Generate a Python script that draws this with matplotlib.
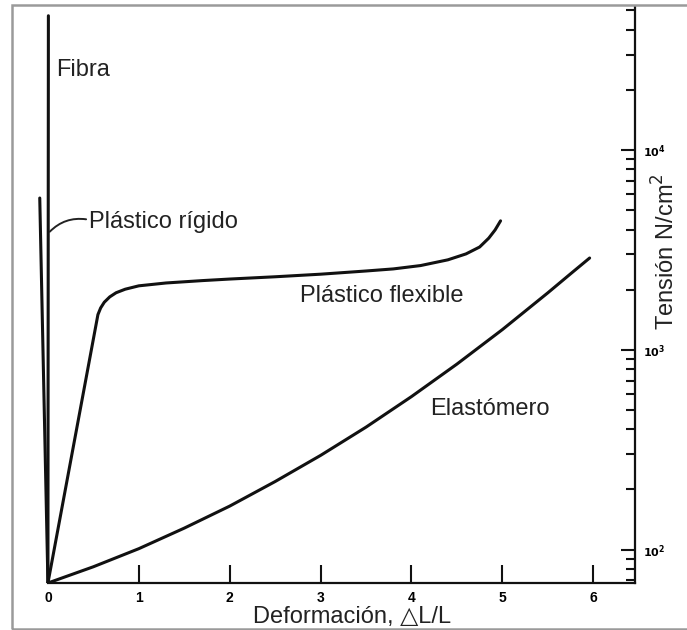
import matplotlib
matplotlib.use("Agg")
import matplotlib.pyplot as plt
from matplotlib.patches import Rectangle
from matplotlib.ticker import LogLocator, NullFormatter, FixedLocator, FixedFormatter

plt.rcParams['font.family'] = ['Liberation Sans', 'DejaVu Sans']

# Strain (ΔL/L) and stress (N/cm²) for each material
fibra_x = [0.0, 0.005]
fibra_y = [68, 47000]

rigido_x = [0.0, -0.09]
rigido_y = [68, 5750]

flexible_x = [0.0, 0.55, 0.58, 0.62, 0.68, 0.75, 0.85, 1.00, 1.30, 1.70, 2.00, 2.50,
              3.00, 3.50, 3.80, 4.10, 4.40, 4.60, 4.75, 4.85, 4.92, 4.98]
flexible_y = [68, 1500, 1620, 1730, 1840, 1930, 2010, 2090, 2160, 2220, 2260, 2320,
              2390, 2480, 2540, 2640, 2820, 3020, 3270, 3620, 3980, 4420]

elast_x = [0.0, 0.5, 1.0, 1.5, 2.0, 2.5, 3.0, 3.5, 4.0, 4.5, 5.0, 5.5, 5.75, 5.96]
elast_y = [68, 82, 101, 128, 165, 219, 296, 410, 583, 848, 1262, 1928, 2400, 2880]

x_ticks = [0, 1, 2, 3, 4, 5, 6]
x_ticklabels = ['0', '1', '2', '3', '4', '5', '6']
y_ticks = [1e2, 1e3, 1e4]
y_ticklabels = ['$\\mathbf{10^{2}}$', '$\\mathbf{10^{3}}$', '$\\mathbf{10^{4}}$']

fig = plt.figure(figsize=(6.87, 6.30), dpi=100)
ax = fig.add_axes([0.0539, 0.0746, 0.8705, 0.9143])

line_kw = dict(color='#111111', lw=2.2, solid_capstyle='round', solid_joinstyle='round')
ax.plot(fibra_x, fibra_y, **line_kw)
ax.plot(rigido_x, rigido_y, **line_kw)
ax.plot(flexible_x, flexible_y, **line_kw)
ax.plot(elast_x, elast_y, **line_kw)

ax.set_yscale('log')
ax.set_xlim(-0.12, 6.46)
ax.set_ylim(68, 52000)

# Spines: only bottom and right, bottom starting at the origin
for side in ('left', 'top'):
    ax.spines[side].set_visible(False)
for side in ('bottom', 'right'):
    ax.spines[side].set_linewidth(1.6)
    ax.spines[side].set_color('#111111')
ax.spines['bottom'].set_bounds(0, 6.46)

ax.xaxis.set_major_locator(FixedLocator(x_ticks))
ax.xaxis.set_major_formatter(FixedFormatter(x_ticklabels))
ax.tick_params(axis='x', direction='in', length=13, width=1.5, color='#111111',
               pad=6, labelsize=10)
for lbl in ax.get_xticklabels():
    lbl.set_fontweight('bold')

ax.yaxis.tick_right()
ax.yaxis.set_major_locator(FixedLocator(y_ticks))
ax.yaxis.set_major_formatter(FixedFormatter(y_ticklabels))
ax.yaxis.set_minor_locator(LogLocator(base=10, subs=range(2, 10)))
ax.yaxis.set_minor_formatter(NullFormatter())
ax.tick_params(axis='y', which='major', direction='in', length=10, width=1.5,
               color='#111111', pad=6, labelsize=8)
ax.tick_params(axis='y', which='minor', direction='in', length=6.5, width=1.5,
               color='#111111')

# Curve labels
txt_kw = dict(fontsize=17, color='#222222', va='baseline', ha='left')
ax.text(0.09, 23400, 'Fibra', **txt_kw)
ax.text(0.45, 4070, 'Plástico rígido', **txt_kw)
ax.text(2.77, 1740, 'Plástico flexible', **txt_kw)
ax.text(4.20, 473, 'Elastómero', **txt_kw)

# Leader line for the rigid plastic label
ax.annotate('', xy=(0.02, 3900), xytext=(0.42, 4500),
            arrowprops=dict(arrowstyle='-', color='#222222', lw=1.4,
                            connectionstyle='arc3,rad=0.25', shrinkA=0, shrinkB=0))

# Axis titles
fig.text(0.512, 0.020, 'Deformación, △L/L', fontsize=17, color='#222222',
         ha='center', va='center')
fig.text(0.970, 0.60, 'Tensión N/cm$^2$', fontsize=17, color='#222222',
         rotation=90, ha='center', va='center')

# Frame around the figure
fig.patches.append(Rectangle((12 / 687, 1.5 / 630), 1.2, 623.5 / 630,
                             transform=fig.transFigure, fill=False,
                             edgecolor='#9a9a9a', lw=1.8, clip_on=False))

fig.savefig('out.png', dpi=100)
